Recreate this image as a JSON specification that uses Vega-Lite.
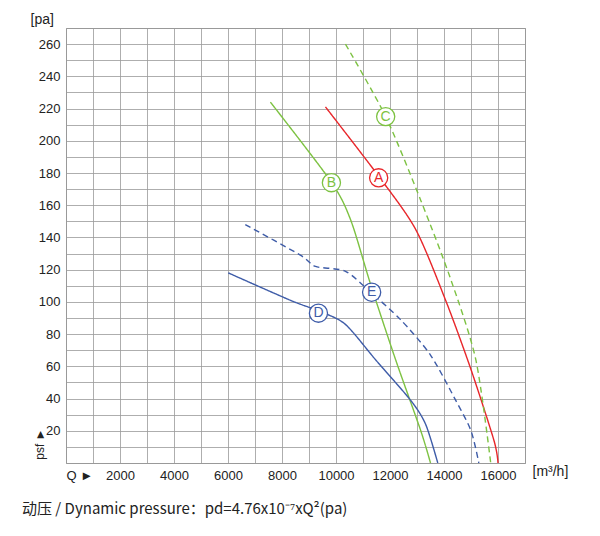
{
  "$schema": "https://vega.github.io/schema/vega-lite/v6.json",
  "width": 459,
  "height": 435,
  "autosize": {"type": "none"},
  "padding": {"left": 66, "top": 28, "right": 75, "bottom": 73},
  "background": "white",
  "title": {"text": "动压 / Dynamic pressure：pd=4.76x10⁻⁷xQ²(pa)", "orient": "bottom", "anchor": "start", "offset": 20, "dx": -8, "fontSize": 15, "fontWeight": "normal", "font": "Noto Sans CJK SC", "color": "#222"},
  "datasets": {
    "curves": [
      {"s": "A", "q": 9610, "p": 221}, {"s": "A", "q": 11580, "p": 178}, {"s": "A", "q": 12950, "p": 145}, {"s": "A", "q": 14060, "p": 101}, {"s": "A", "q": 15000, "p": 58}, {"s": "A", "q": 15850, "p": 14}, {"s": "A", "q": 16000, "p": 0},
      {"s": "C", "q": 10350, "p": 260}, {"s": "C", "q": 11840, "p": 215}, {"s": "C", "q": 13140, "p": 163}, {"s": "C", "q": 14250, "p": 114}, {"s": "C", "q": 15180, "p": 64}, {"s": "C", "q": 15730, "p": 0},
      {"s": "B", "q": 7570, "p": 224}, {"s": "B", "q": 9800, "p": 175}, {"s": "B", "q": 10540, "p": 151}, {"s": "B", "q": 11280, "p": 111}, {"s": "B", "q": 12210, "p": 64}, {"s": "B", "q": 13140, "p": 20}, {"s": "B", "q": 13500, "p": 0},
      {"s": "E", "q": 6640, "p": 148}, {"s": "E", "q": 8680, "p": 129}, {"s": "E", "q": 9240, "p": 122}, {"s": "E", "q": 10350, "p": 119}, {"s": "E", "q": 11280, "p": 106}, {"s": "E", "q": 12390, "p": 89}, {"s": "E", "q": 13500, "p": 67}, {"s": "E", "q": 14430, "p": 39}, {"s": "E", "q": 15000, "p": 20}, {"s": "E", "q": 15290, "p": 0},
      {"s": "D", "q": 6010, "p": 118}, {"s": "D", "q": 8310, "p": 101}, {"s": "D", "q": 9420, "p": 94}, {"s": "D", "q": 10350, "p": 86}, {"s": "D", "q": 11470, "p": 64}, {"s": "D", "q": 12760, "p": 39}, {"s": "D", "q": 13320, "p": 24}, {"s": "D", "q": 13770, "p": 0}
    ],
    "labels": [
      {"s": "A", "q": 11580, "p": 177},
      {"s": "B", "q": 9830, "p": 174},
      {"s": "C", "q": 11840, "p": 215},
      {"s": "D", "q": 9350, "p": 93},
      {"s": "E", "q": 11320, "p": 106}
    ]
  },
  "encoding": {
    "x": {"field": "q", "type": "quantitative", "scale": {"domain": [0, 17000], "nice": false},
      "axis": {"values": [0,1000,2000,3000,4000,5000,6000,7000,8000,9000,10000,11000,12000,13000,14000,15000,16000,17000],
        "labelExpr": "datum.value == 0 ? 'Q ►' : (datum.value % 2000 == 0 && datum.value < 17000 ? datum.value : '')",
        "title": "[m³/h]", "titleX": 466, "titleY": 8, "titleAlign": "left", "titleBaseline": "middle", "titleFontWeight": "normal", "titleFontSize": 14, "titleFont": "Liberation Sans", "titleColor": "#222",
        "ticks": false, "domain": false, "gridColor": "#999", "gridWidth": 0.8, "labelFontSize": 13, "labelColor": "#222", "labelPadding": 6, "labelFont": "Liberation Sans"}},
    "y": {"field": "p", "type": "quantitative", "scale": {"domain": [0, 270], "nice": false},
      "axis": {"values": [0,10,20,30,40,50,60,70,80,90,100,110,120,130,140,150,160,170,180,190,200,210,220,230,240,250,260,270],
        "labelExpr": "datum.value > 0 && datum.value % 20 == 0 && datum.value < 270 ? datum.value : ''",
        "title": "[pa]", "titleAngle": 0, "titleX": -36, "titleY": -2, "titleAlign": "left", "titleFontWeight": "normal", "titleFontSize": 14, "titleFont": "Liberation Sans", "titleColor": "#222",
        "ticks": false, "domain": false, "gridColor": "#999", "gridWidth": 0.8, "labelFontSize": 13, "labelColor": "#222", "labelPadding": 6, "labelFont": "Liberation Sans"}}
  },
  "layer": [
    {
      "data": {"name": "curves"},
      "mark": {"type": "line", "strokeWidth": 1.4, "clip": true, "interpolate": "cardinal", "tension": 0.2},
      "encoding": {
        "detail": {"field": "s"},
        "color": {"field": "s", "type": "nominal", "legend": null,
          "scale": {"domain": ["A","B","C","D","E"], "range": ["#e8262a","#7dc242","#7dc242","#3e5ca8","#3e5ca8"]}},
        "strokeDash": {"field": "s", "type": "nominal", "legend": null,
          "scale": {"domain": ["A","B","C","D","E"], "range": [[1,0],[1,0],[6,4],[1,0],[6,4]]}}
      }
    },
    {
      "data": {"name": "labels"},
      "mark": {"type": "point", "filled": false, "fill": "white", "fillOpacity": 1, "size": 330, "strokeWidth": 1.3},
      "encoding": {"color": {"field": "s", "type": "nominal", "legend": null}}
    },
    {
      "data": {"name": "labels"},
      "mark": {"type": "text", "fontSize": 14, "font": "Liberation Sans", "baseline": "middle"},
      "encoding": {"text": {"field": "s"}, "color": {"field": "s", "type": "nominal", "legend": null}}
    },
    {
      "data": {"values": [{"t": "psf ►", "q": 0, "p": 3}]},
      "mark": {"type": "text", "dx": 14, "dy": -26, "angle": 270, "align": "center", "baseline": "middle", "fontSize": 12, "font": "Liberation Sans", "color": "#222"},
      "encoding": {"text": {"field": "t"}}
    }
  ],
  "config": {"view": {"stroke": "#999"}}
}
